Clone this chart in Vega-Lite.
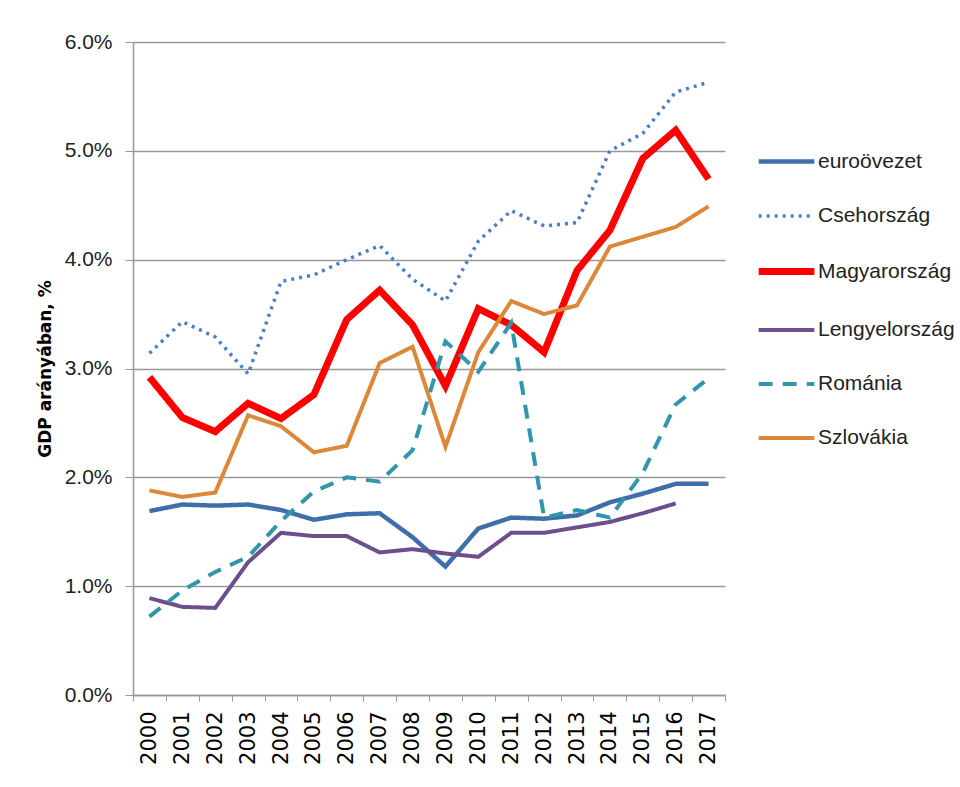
{
  "$schema": "https://vega.github.io/schema/vega-lite/v6.json",
  "width": 592,
  "height": 653,
  "autosize": {"type": "none"},
  "padding": {"left": 133, "top": 42, "right": 235, "bottom": 92},
  "background": "white",
  "config": {"view": {"stroke": null}},
  "data": {
    "values": [
      {"year": "2000", "series": "euroövezet", "value": 1.69},
      {"year": "2001", "series": "euroövezet", "value": 1.75},
      {"year": "2002", "series": "euroövezet", "value": 1.74},
      {"year": "2003", "series": "euroövezet", "value": 1.75},
      {"year": "2004", "series": "euroövezet", "value": 1.7},
      {"year": "2005", "series": "euroövezet", "value": 1.61},
      {"year": "2006", "series": "euroövezet", "value": 1.66},
      {"year": "2007", "series": "euroövezet", "value": 1.67},
      {"year": "2008", "series": "euroövezet", "value": 1.45},
      {"year": "2009", "series": "euroövezet", "value": 1.18},
      {"year": "2010", "series": "euroövezet", "value": 1.53},
      {"year": "2011", "series": "euroövezet", "value": 1.63},
      {"year": "2012", "series": "euroövezet", "value": 1.62},
      {"year": "2013", "series": "euroövezet", "value": 1.65},
      {"year": "2014", "series": "euroövezet", "value": 1.77},
      {"year": "2015", "series": "euroövezet", "value": 1.85},
      {"year": "2016", "series": "euroövezet", "value": 1.94},
      {"year": "2017", "series": "euroövezet", "value": 1.94},
      {"year": "2000", "series": "Csehország", "value": 3.14},
      {"year": "2001", "series": "Csehország", "value": 3.43},
      {"year": "2002", "series": "Csehország", "value": 3.29},
      {"year": "2003", "series": "Csehország", "value": 2.95},
      {"year": "2004", "series": "Csehország", "value": 3.8},
      {"year": "2005", "series": "Csehország", "value": 3.86},
      {"year": "2006", "series": "Csehország", "value": 4.0},
      {"year": "2007", "series": "Csehország", "value": 4.13},
      {"year": "2008", "series": "Csehország", "value": 3.82},
      {"year": "2009", "series": "Csehország", "value": 3.62},
      {"year": "2010", "series": "Csehország", "value": 4.17},
      {"year": "2011", "series": "Csehország", "value": 4.45},
      {"year": "2012", "series": "Csehország", "value": 4.31},
      {"year": "2013", "series": "Csehország", "value": 4.34},
      {"year": "2014", "series": "Csehország", "value": 5.0},
      {"year": "2015", "series": "Csehország", "value": 5.16},
      {"year": "2016", "series": "Csehország", "value": 5.54},
      {"year": "2017", "series": "Csehország", "value": 5.63},
      {"year": "2000", "series": "Magyarország", "value": 2.92},
      {"year": "2001", "series": "Magyarország", "value": 2.55},
      {"year": "2002", "series": "Magyarország", "value": 2.42},
      {"year": "2003", "series": "Magyarország", "value": 2.68},
      {"year": "2004", "series": "Magyarország", "value": 2.54},
      {"year": "2005", "series": "Magyarország", "value": 2.76},
      {"year": "2006", "series": "Magyarország", "value": 3.45},
      {"year": "2007", "series": "Magyarország", "value": 3.72},
      {"year": "2008", "series": "Magyarország", "value": 3.4},
      {"year": "2009", "series": "Magyarország", "value": 2.84},
      {"year": "2010", "series": "Magyarország", "value": 3.55},
      {"year": "2011", "series": "Magyarország", "value": 3.4},
      {"year": "2012", "series": "Magyarország", "value": 3.15},
      {"year": "2013", "series": "Magyarország", "value": 3.9},
      {"year": "2014", "series": "Magyarország", "value": 4.27},
      {"year": "2015", "series": "Magyarország", "value": 4.93},
      {"year": "2016", "series": "Magyarország", "value": 5.19},
      {"year": "2017", "series": "Magyarország", "value": 4.74},
      {"year": "2000", "series": "Lengyelország", "value": 0.89},
      {"year": "2001", "series": "Lengyelország", "value": 0.81},
      {"year": "2002", "series": "Lengyelország", "value": 0.8},
      {"year": "2003", "series": "Lengyelország", "value": 1.22},
      {"year": "2004", "series": "Lengyelország", "value": 1.49},
      {"year": "2005", "series": "Lengyelország", "value": 1.46},
      {"year": "2006", "series": "Lengyelország", "value": 1.46},
      {"year": "2007", "series": "Lengyelország", "value": 1.31},
      {"year": "2008", "series": "Lengyelország", "value": 1.34},
      {"year": "2009", "series": "Lengyelország", "value": 1.3},
      {"year": "2010", "series": "Lengyelország", "value": 1.27},
      {"year": "2011", "series": "Lengyelország", "value": 1.49},
      {"year": "2012", "series": "Lengyelország", "value": 1.49},
      {"year": "2013", "series": "Lengyelország", "value": 1.54},
      {"year": "2014", "series": "Lengyelország", "value": 1.59},
      {"year": "2015", "series": "Lengyelország", "value": 1.67},
      {"year": "2016", "series": "Lengyelország", "value": 1.76},
      {"year": "2000", "series": "Románia", "value": 0.72},
      {"year": "2001", "series": "Románia", "value": 0.96},
      {"year": "2002", "series": "Románia", "value": 1.13},
      {"year": "2003", "series": "Románia", "value": 1.27},
      {"year": "2004", "series": "Románia", "value": 1.6},
      {"year": "2005", "series": "Románia", "value": 1.87},
      {"year": "2006", "series": "Románia", "value": 2.0},
      {"year": "2007", "series": "Románia", "value": 1.96},
      {"year": "2008", "series": "Románia", "value": 2.25},
      {"year": "2009", "series": "Románia", "value": 3.25},
      {"year": "2010", "series": "Románia", "value": 2.97},
      {"year": "2011", "series": "Románia", "value": 3.42},
      {"year": "2012", "series": "Románia", "value": 1.63},
      {"year": "2013", "series": "Románia", "value": 1.7},
      {"year": "2014", "series": "Románia", "value": 1.63},
      {"year": "2015", "series": "Románia", "value": 2.04},
      {"year": "2016", "series": "Románia", "value": 2.67},
      {"year": "2017", "series": "Románia", "value": 2.91},
      {"year": "2000", "series": "Szlovákia", "value": 1.88},
      {"year": "2001", "series": "Szlovákia", "value": 1.82},
      {"year": "2002", "series": "Szlovákia", "value": 1.86},
      {"year": "2003", "series": "Szlovákia", "value": 2.57},
      {"year": "2004", "series": "Szlovákia", "value": 2.47},
      {"year": "2005", "series": "Szlovákia", "value": 2.23},
      {"year": "2006", "series": "Szlovákia", "value": 2.29},
      {"year": "2007", "series": "Szlovákia", "value": 3.05},
      {"year": "2008", "series": "Szlovákia", "value": 3.2},
      {"year": "2009", "series": "Szlovákia", "value": 2.28},
      {"year": "2010", "series": "Szlovákia", "value": 3.15},
      {"year": "2011", "series": "Szlovákia", "value": 3.62},
      {"year": "2012", "series": "Szlovákia", "value": 3.5},
      {"year": "2013", "series": "Szlovákia", "value": 3.58},
      {"year": "2014", "series": "Szlovákia", "value": 4.12},
      {"year": "2015", "series": "Szlovákia", "value": 4.21},
      {"year": "2016", "series": "Szlovákia", "value": 4.3},
      {"year": "2017", "series": "Szlovákia", "value": 4.49}
    ]
  },
  "mark": {"type": "line", "strokeCap": "butt", "strokeJoin": "miter"},
  "encoding": {
    "x": {
      "field": "year",
      "type": "ordinal",
      "scale": {"type": "band", "paddingInner": 0, "paddingOuter": 0},
      "axis": {
        "title": null,
        "labelAngle": 270,
        "labelFont": "DejaVu Sans",
        "labelFontWeight": "normal",
        "labelFontSize": 21,
        "labelColor": "black",
        "labelPadding": 10,
        "tickBand": "extent",
        "tickSize": 6,
        "tickColor": "#999999",
        "domainColor": "#999999",
        "domainWidth": 1.5
      }
    },
    "y": {
      "field": "value",
      "type": "quantitative",
      "scale": {"domain": [0, 6], "nice": false},
      "axis": {
        "title": "GDP arányában, %",
        "titleFont": "DejaVu Sans",
        "titleFontWeight": "bold",
        "titleFontSize": 17,
        "titleColor": "black",
        "titlePadding": 10,
        "values": [0, 1, 2, 3, 4, 5, 6],
        "labelExpr": "format(datum.value, '.1f') + '%'",
        "labelFont": "Liberation Sans",
        "labelFontSize": 21,
        "labelColor": "#222222",
        "labelPadding": 13,
        "tickSize": 8,
        "tickColor": "#999999",
        "domainColor": "#999999",
        "domainWidth": 1.5,
        "grid": true,
        "gridColor": "#999999",
        "gridWidth": 1.5
      }
    },
    "color": {
      "field": "series",
      "type": "nominal",
      "scale": {
        "domain": ["euroövezet", "Csehország", "Magyarország", "Lengyelország", "Románia", "Szlovákia"],
        "range": ["#3F6FAA", "#4A7EC8", "#FF0000", "#6E4F8E", "#3196AC", "#DD8838"]
      },
      "legend": {
        "title": null,
        "orient": "none",
        "legendX": 622,
        "legendY": 89,
        "symbolType": "stroke",
        "symbolSize": 3100,
        "labelFont": "Liberation Sans",
        "labelFontSize": 21,
        "labelColor": "#222222",
        "labelOffset": 0,
        "rowPadding": 14
      }
    },
    "strokeDash": {
      "field": "series",
      "type": "nominal",
      "scale": {
        "domain": ["euroövezet", "Csehország", "Magyarország", "Lengyelország", "Románia", "Szlovákia"],
        "range": [[1, 0], [3, 5], [1, 0], [1, 0], [14, 10], [1, 0]]
      },
      "legend": null
    },
    "strokeWidth": {
      "field": "series",
      "type": "nominal",
      "scale": {
        "type": "ordinal",
        "domain": ["euroövezet", "Csehország", "Magyarország", "Lengyelország", "Románia", "Szlovákia"],
        "range": [4.5, 3.5, 7, 4, 4, 4]
      },
      "legend": null
    }
  }
}
